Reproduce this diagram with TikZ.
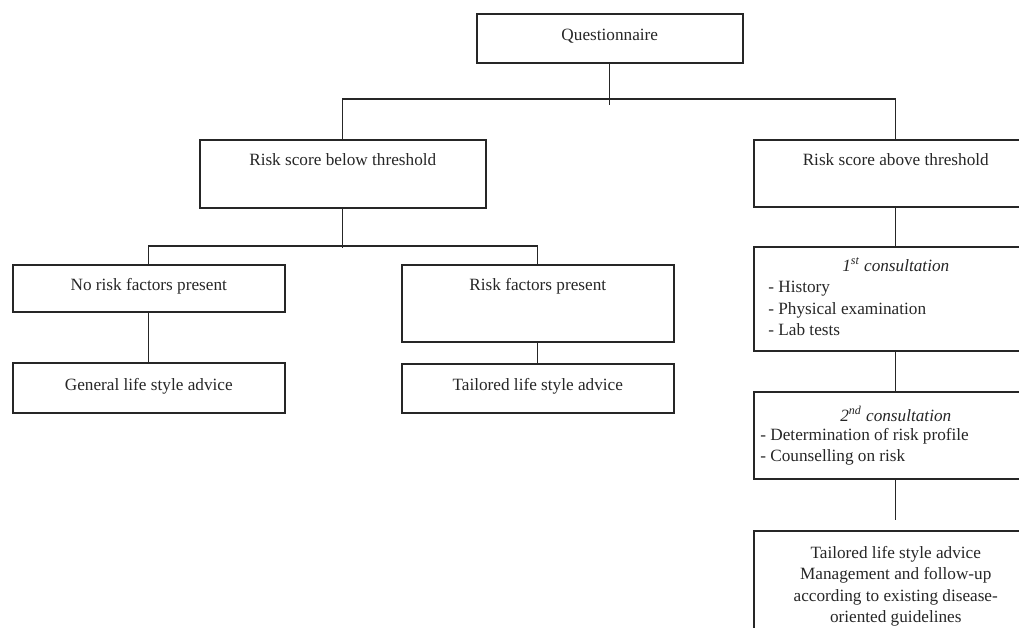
\documentclass[tikz,border=0pt]{standalone}
\usepackage{fontspec}
\setmainfont{Liberation Serif}
\usetikzlibrary{positioning}
\begin{document}
\begin{tikzpicture}[x=0.02cm, y=-0.02cm, black!85,
  font=\fontsize{9.8}{12.2}\selectfont,
  box/.style={draw, line width=0.9pt, anchor=north west, inner sep=0pt,
    minimum width=5.44cm, text height=0.75em, text depth=0.45em},
  wide/.style={box, minimum width=5.68cm},
  ttl/.style={draw=none, anchor=north, inner sep=0pt, text height=0.75em, text depth=0.25em},
  list/.style={align=left, inner sep=0pt},
  link/.style={line width=0.6pt}]
\useasboundingbox (0,0) rectangle (1019,628);
\clip (0,0) rectangle (1019,628);
% boxes
\node[box, minimum width=5.32cm, minimum height=0.98cm] (quest) at (476,13) {Questionnaire};
\node[box, minimum width=5.72cm, minimum height=1.36cm,
  label={[ttl, yshift=-0.254cm]north:Risk score below threshold}] (below) at (199,139) {};
\node[wide, minimum height=1.34cm,
  label={[ttl, yshift=-0.254cm]north:Risk score above threshold}] (above) at (753,139) {};
\node[box, minimum height=0.94cm] (norisk) at (12,264) {No risk factors present};
\node[box, minimum height=1.00cm] (general) at (12,362) {General life style advice};
\node[box, minimum height=1.54cm,
  label={[ttl, yshift=-0.254cm]north:Risk factors present}] (riskf) at (401,264) {};
\node[box, minimum height=0.98cm] (tailored) at (401,363) {Tailored life style advice};
\node[wide, minimum height=2.08cm,
  label={[ttl, yshift=-0.234cm]north:\textit{1\textsuperscript{st} consultation}}] (first) at (753,246) {};
\node[list, below right=0.70cm and 0.30cm of first.north west] (firstlist)
  {- History\\- Physical examination\\- Lab tests};
\node[wide, minimum height=1.74cm,
  label={[ttl, yshift=-0.334cm]north:\textit{2\textsuperscript{nd} consultation}}] (second) at (753,391) {};
\node[list, below right=0.74cm and 0.14cm of second.north west] (secondlist)
  {- Determination of risk profile\\- Counselling on risk};
\node[wide, minimum height=2.4cm,
  label={[draw=none, anchor=north, inner sep=0pt, align=center, yshift=-0.32cm]north:{Tailored life style advice\\Management and follow-up\\according to existing disease-\\oriented guidelines}}] (last) at (753,530) {};
% connectors
\draw[link] (quest.south) -- ++(0,41);
\draw[link] (below.north) -- ++(0,-40) -| (above.north);
\draw[link] (below.south) -- ++(0,39);
\draw[link] (norisk.north) -- ++(0,-18) -| (riskf.north);
\draw[link] (norisk.south) -- (general.north);
\draw[link] (riskf.south) -- (tailored.north);
\draw[link] (above.south) -- (first.north);
\draw[link] (first.south) -- (second.north);
\draw[link, shorten >=0.2cm] (second.south) -- (last.north);
\end{tikzpicture}
\end{document}
